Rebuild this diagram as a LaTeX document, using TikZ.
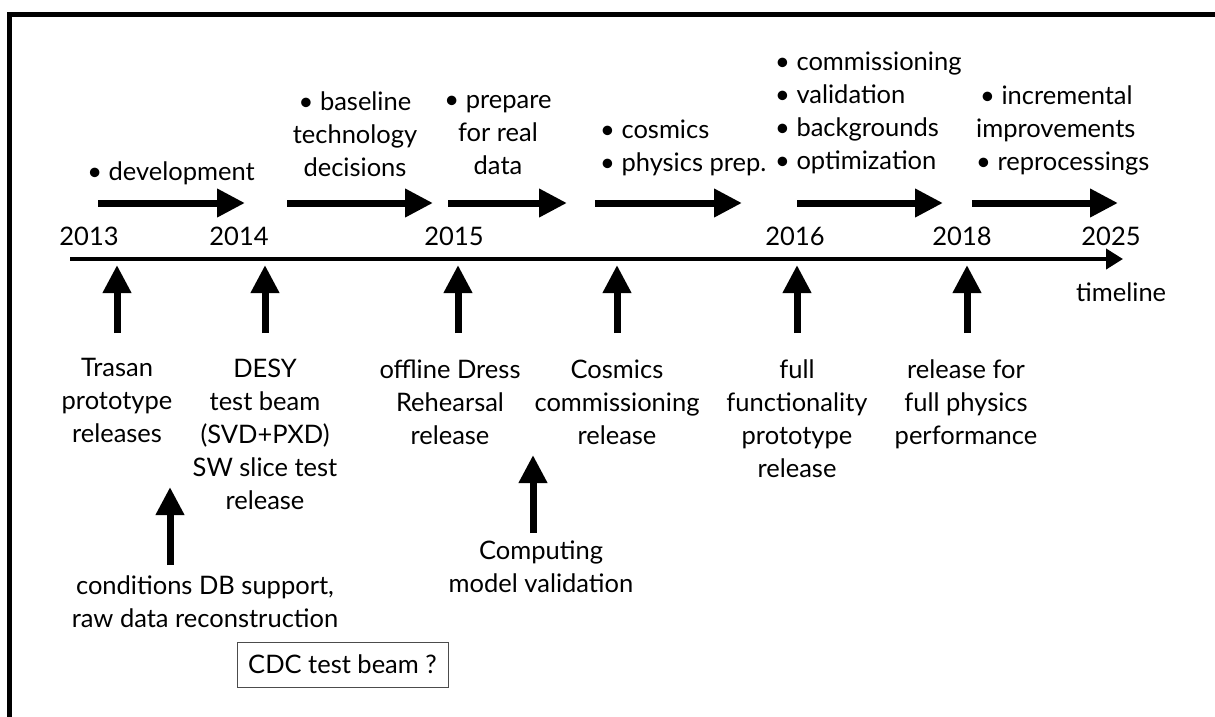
\documentclass[tikz,border=0pt]{standalone}
\usepackage{fontspec}
\setmainfont{Lato}
\usetikzlibrary{arrows.meta}

\begin{document}
\begin{tikzpicture}[x=1pt,y=-1pt]
    \tikzstyle{every node}=[inner sep=0,font=\fontsize{25.5}{33}\selectfont]
    \tikzstyle{note}=[align=center,anchor=north,execute at begin node=\strut]
    \tikzstyle{plan}=[align=left,anchor=north west,execute at begin node=\strut]
    \tikzstyle{year}=[anchor=base]
    \tikzstyle{bigarrow}=[line width=7pt,-{Triangle[length=28pt,width=27pt]}]
    \tikzstyle{axis}=[line width=4pt,-{Triangle[length=17pt,width=20pt]}]
    {
        \useasboundingbox (0,0) rectangle (1215,716);
        \draw[line width=5pt] (9.5,720) -- (9.5,14.5) -- (1220,14.5);

        % timeline
        \coordinate (t0) at (70,259);
        \coordinate (t1) at (1123,259);
        \draw[axis] (t0) -- (t1);
        \node[anchor=base west] (tl) at (1076,301) {timeline};

        \node[year] (y13) at (89,245) {2013};
        \node[year] (y14) at (239,245) {2014};
        \node[year] (y15) at (454,245) {2015};
        \node[year] (y16) at (795,245) {2016};
        \node[year] (y18) at (962,245) {2018};
        \node[year] (y25) at (1111,245) {2025};

        % phases above
        \node[anchor=base] (dev) at (171,180) {\textbullet\ development};
        \node[note] (base) at (355,92) {\textbullet\ baseline\\technology\\decisions};
        \node[note] (prep) at (498,95) {\textbullet\ prepare\\for real\\data};
        \node[plan] (cosm) at (600,120) {\textbullet\ cosmics\\\textbullet\ physics prep.};
        \node[plan] (comm) at (775,52) {\textbullet\ commissioning\\\textbullet\ validation\\\textbullet\ backgrounds\\\textbullet\ optimization};
        \node[plan] (incr) at (976,86) {\hspace{4pt}\textbullet\ incremental\\improvements\\\textbullet\ reprocessings};

        \coordinate (p1a) at (98,203);   \coordinate (p1b) at (245,203);
        \coordinate (p2a) at (287,203);  \coordinate (p2b) at (433,203);
        \coordinate (p3a) at (448,203);  \coordinate (p3b) at (567,203);
        \coordinate (p4a) at (595,203);  \coordinate (p4b) at (742,203);
        \coordinate (p5a) at (797,203);  \coordinate (p5b) at (943,203);
        \coordinate (p6a) at (972,203);  \coordinate (p6b) at (1118,203);
        \foreach \i in {1,...,6}
            \draw[bigarrow] (p\i a) -- (p\i b);

        % releases below
        \node[note] (trasan) at (117,358) {Trasan\\prototype\\releases};
        \node[note] (desy) at (265,359) {DESY\\test beam\\(SVD+PXD)\\SW slice test\\release};
        \node[note] (dress) at (450,360) {offline Dress\\Rehearsal\\release};
        \node[note] (cosmrel) at (617,360) {Cosmics\\commissioning\\release};
        \node[note] (full) at (797,360) {full\\functionality\\prototype\\release};
        \node[note] (phys) at (966,360) {release for\\full physics\\performance};
        \node[note] (cond) at (205,576) {conditions DB support,\\raw data reconstruction};
        \node[note] (comp) at (541,541) {Computing\\model validation};
        \node[draw=black!70,line width=1pt,minimum width=211,minimum height=45] (cdc) at (342.5,664.5) {CDC test beam ?};

        % release arrows
        \foreach \n/\x in {1/117,2/265,3/458,4/617,5/797,6/967} {
            \coordinate (b\n) at (\x,333);
            \coordinate (m\n) at (\x,265);
        }
        \coordinate (b7) at (170,565);  \coordinate (m7) at (170,487);
        \coordinate (b8) at (533,533);  \coordinate (m8) at (533,455);
        \foreach \n in {1,...,8}
            \draw[bigarrow] (b\n) -- (m\n);
    }
\end{tikzpicture}
\end{document}
